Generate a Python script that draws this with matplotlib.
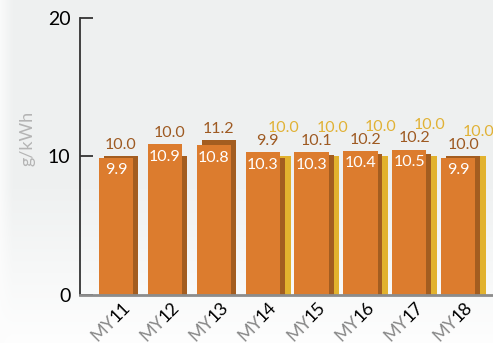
import matplotlib
matplotlib.use("Agg")
import matplotlib.pyplot as plt
import numpy as np
from matplotlib.font_manager import FontProperties
from matplotlib.textpath import TextToPath

# data
years = ["11", "12", "13", "14", "15", "16", "17", "18"]
actual = [9.9, 10.9, 10.8, 10.3, 10.3, 10.4, 10.5, 9.9]      # orange, front
target = [10.0, 10.0, 11.2, 9.9, 10.1, 10.2, 10.2, 10.0]     # brown, middle
standard = [None, None, None, 10.0, 10.0, 10.0, 10.0, 10.0]  # yellow, back

c_orange = "#dc7c2e"
c_brown = "#a35d20"
c_yellow = "#e2b22e"
c_brown_txt = "#9e5a22"
c_yellow_txt = "#e1b236"

font = "Lato"
plt.rcParams["font.family"] = [font, "DejaVu Sans"]

fig = plt.figure(figsize=(4.93, 3.43), dpi=100)

# background gradient
bg = fig.add_axes([0, 0, 1, 1], zorder=-10)
grad = np.linspace(0, 1, 343)[:, None]
top = np.array([0.937, 0.945, 0.945])
bot = np.array([0.995, 0.995, 0.995])
t = np.clip((grad - 0.55) / 0.45, 0, 1)
img = top * (1 - t[..., None]) + bot * t[..., None]
img = np.repeat(img, 493, axis=1)
# lighter strip on far left
xs = np.linspace(0, 1, 493)
edge = np.clip(1 - xs / 0.025, 0, 1)[None, :, None]
img = img * (1 - edge * 0.8) + 0.99 * edge * 0.8
bg.imshow(img, aspect="auto", extent=[0, 1, 0, 1])
bg.axis("off")

ax = fig.add_axes([0.1623, 0.14, 0.8377, 0.8076])
ax.set_facecolor("none")

x = np.arange(len(years))
w = 0.70
off_b = 0.10
off_y = 0.22

ys = np.array([v if v is not None else 0 for v in standard])
has_y = np.array([v is not None for v in standard])
ax.bar(x[has_y] + off_y, ys[has_y], width=w, color=c_yellow, zorder=1)
ax.bar(x + off_b, target, width=w, color=c_brown, zorder=2)
ax.bar(x, actual, width=w, color=c_orange, zorder=3)

lab_fs = 11.5
for i in range(len(years)):
    ax.text(x[i], actual[i] - 0.4, f"{actual[i]:.1f}", color="white",
            ha="center", va="top", fontsize=lab_fs, zorder=4)
    yb = max(actual[i], target[i]) + 0.3
    ax.text(x[i] + off_b, yb, f"{target[i]:.1f}", color=c_brown_txt,
            ha="center", va="bottom", fontsize=lab_fs, zorder=4)
    if standard[i] is not None:
        ax.text(x[i] + off_y + 0.2, yb + 0.95, f"{standard[i]:.1f}",
                color=c_yellow_txt, ha="center", va="bottom",
                fontsize=lab_fs, zorder=4, clip_on=False)

ax.set_xlim(-0.736, 7.71)
ax.set_ylim(0, 20)
ax.set_yticks([0, 10, 20])
ax.tick_params(axis="y", direction="in", length=9, width=1.3,
               color="#333333", labelsize=14, pad=7, labelcolor="black")
ax.set_xticks([])

for s in ["top", "right"]:
    ax.spines[s].set_visible(False)
ax.spines["left"].set_color("#333333")
ax.spines["left"].set_linewidth(1.3)
ax.spines["bottom"].set_color("#8c8c8c")
ax.spines["bottom"].set_linewidth(2)
ax.spines["bottom"].set_zorder(5)

fig.text(27 / 493, 1 - 138 / 343, "g/kWh", color="#b4b4b4", fontsize=13,
         rotation=90, ha="center", va="center")

# two-colour rotated x labels: grey "MY" + black year
tick_fs = 13
prop = FontProperties(family=font, size=tick_fs)
ttp = TextToPath()
ang = np.deg2rad(45)
for i, yr in enumerate(years):
    wnum = ttp.get_text_width_height_descent(yr, prop, ismath=False)[0]
    anchor = (x[i] + 0.12, 0)
    base = (0, -3)
    ax.annotate(yr, xy=anchor, xycoords=("data", "data"),
                xytext=base, textcoords="offset points",
                rotation=45, rotation_mode="anchor", ha="right", va="top",
                fontsize=tick_fs, color="black", annotation_clip=False)
    d = wnum - 0.8
    ax.annotate("MY", xy=anchor, xycoords=("data", "data"),
                xytext=(base[0] - d * np.cos(ang), base[1] - d * np.sin(ang)),
                textcoords="offset points",
                rotation=45, rotation_mode="anchor", ha="right", va="top",
                fontsize=tick_fs, color="#8a8a8a", annotation_clip=False)

fig.savefig("out.png", dpi=100)
